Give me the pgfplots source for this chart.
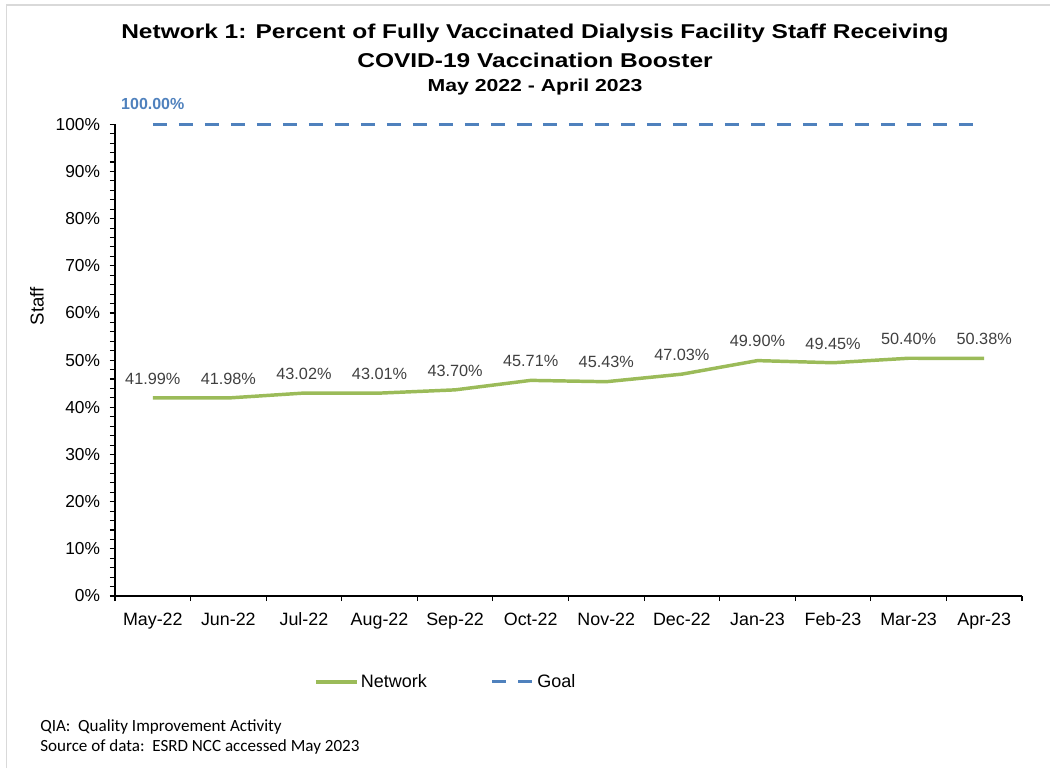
\documentclass[border=0pt]{standalone}
\usepackage{pgfplots}
\pgfplotsset{compat=1.18}
\usepackage{fontspec}
\setmainfont{Liberation Sans}
\newfontfamily\carlito{Carlito}
\definecolor{netgreen}{RGB}{155,187,89}
\definecolor{goalblue}{RGB}{79,129,189}
\definecolor{lblgray}{RGB}{64,64,64}
\definecolor{bordergray}{RGB}{217,217,217}
\begin{document}
\begin{tikzpicture}
\useasboundingbox (0pt,0pt) rectangle (787.5pt,-576pt);
\draw[bordergray, line width=1.2pt] (4.875pt,-576pt) -- (4.875pt,-3.75pt) -- (787.5pt,-3.75pt);
\begin{axis}[
  at={(86.25pt,-447pt)}, anchor=south west,
  scale only axis, width=680.25pt, height=353.8pt,
  xmin=-0.5, xmax=11.5, ymin=0, ymax=100,
  clip=false,
  axis lines=left,
  axis line style={-, line width=1pt, black},
  /pgf/number format/assume math mode=true,
  xtick={0,...,11},
  xticklabels={May-22,Jun-22,Jul-22,Aug-22,Sep-22,Oct-22,Nov-22,Dec-22,Jan-23,Feb-23,Mar-23,Apr-23},
  minor xtick={-0.5,0.5,...,11.5},
  major x tick style={draw=none},
  ytick={0,10,...,100},
  minor ytick={0,2,...,100},
  yticklabel={\pgfmathprintnumber{\tick}\%},
  tick align=outside,
  major tick length=3.75pt, minor tick length=3.75pt,
  tick style={black, line width=0.8pt},
  xticklabel style={font=\fontsize{13.4}{15}\selectfont, text=black, yshift=-5pt, text height=10pt, text depth=3pt},
  yticklabel style={font=\fontsize{13}{15}\selectfont, text=black, xshift=-4pt},
  ylabel={Staff},
  ylabel style={at={(rel axis cs:-0.086,0.614)}, anchor=center, rotate=0, font=\fontsize{14}{16}\selectfont},
  legend style={at={(rel axis cs:0.365,-0.182)}, anchor=center, draw=none, legend columns=2,
    font=\fontsize{13.5}{15}\selectfont, /tikz/every even column/.append style={column sep=46pt},
    inner sep=0pt},
  legend cell align=left,
  legend image code/.code={\draw[#1] (0pt,0pt) -- (30.5pt,0pt);},
]
\addplot[netgreen, line width=2.6pt, line join=round,
  nodes near coords={\pgfmathprintnumber[fixed,fixed zerofill,precision=2]{\pgfplotspointmeta}\%},
  point meta=y,
  nodes near coords style={anchor=center, yshift=14.5pt, text=lblgray, font=\fontsize{12.2}{14}\selectfont}]
  coordinates {(0,41.99) (1,41.98) (2,43.02) (3,43.01) (4,43.70) (5,45.71) (6,45.43) (7,47.03) (8,49.90) (9,49.45) (10,50.40) (11,50.38)};
\addlegendentry{Network}
\addplot[goalblue, line width=2.25pt, dash pattern=on 10.5pt off 9pt]
  coordinates {(0,100) (1,100) (2,100) (3,100) (4,100) (5,100) (6,100) (7,100) (8,100) (9,100) (10,100) (11,100)};
\addlegendentry{Goal}
\addplot[draw=none, forget plot,
  nodes near coords={\pgfmathprintnumber[fixed,fixed zerofill,precision=2]{\pgfplotspointmeta}\%},
  point meta=y,
  nodes near coords style={anchor=center, yshift=15.5pt, text=goalblue, font=\bfseries\fontsize{12}{14}\selectfont}]
  coordinates {(0,100)};
\end{axis}
\node[font=\bfseries\fontsize{15}{17}\selectfont, xscale=1.225] at (401.25pt,-24.75pt) {Network 1: Percent of Fully Vaccinated Dialysis Facility Staff Receiving};
\node[font=\bfseries\fontsize{15}{17}\selectfont, xscale=1.225] at (401.25pt,-45.5pt) {COVID-19 Vaccination Booster};
\node[font=\bfseries\fontsize{13}{15}\selectfont, xscale=1.225] at (401.25pt,-65pt) {May 2022 - April 2023};
\node[anchor=west, font=\carlito\fontsize{12.8}{15}\selectfont, inner sep=0pt] at (30pt,-545.25pt) {QIA:\ \ Quality Improvement Activity};
\node[anchor=west, font=\carlito\fontsize{12.8}{15}\selectfont, inner sep=0pt] at (30pt,-560.25pt) {Source of data:\ \ ESRD NCC accessed May 2023};
\end{tikzpicture}
\end{document}
